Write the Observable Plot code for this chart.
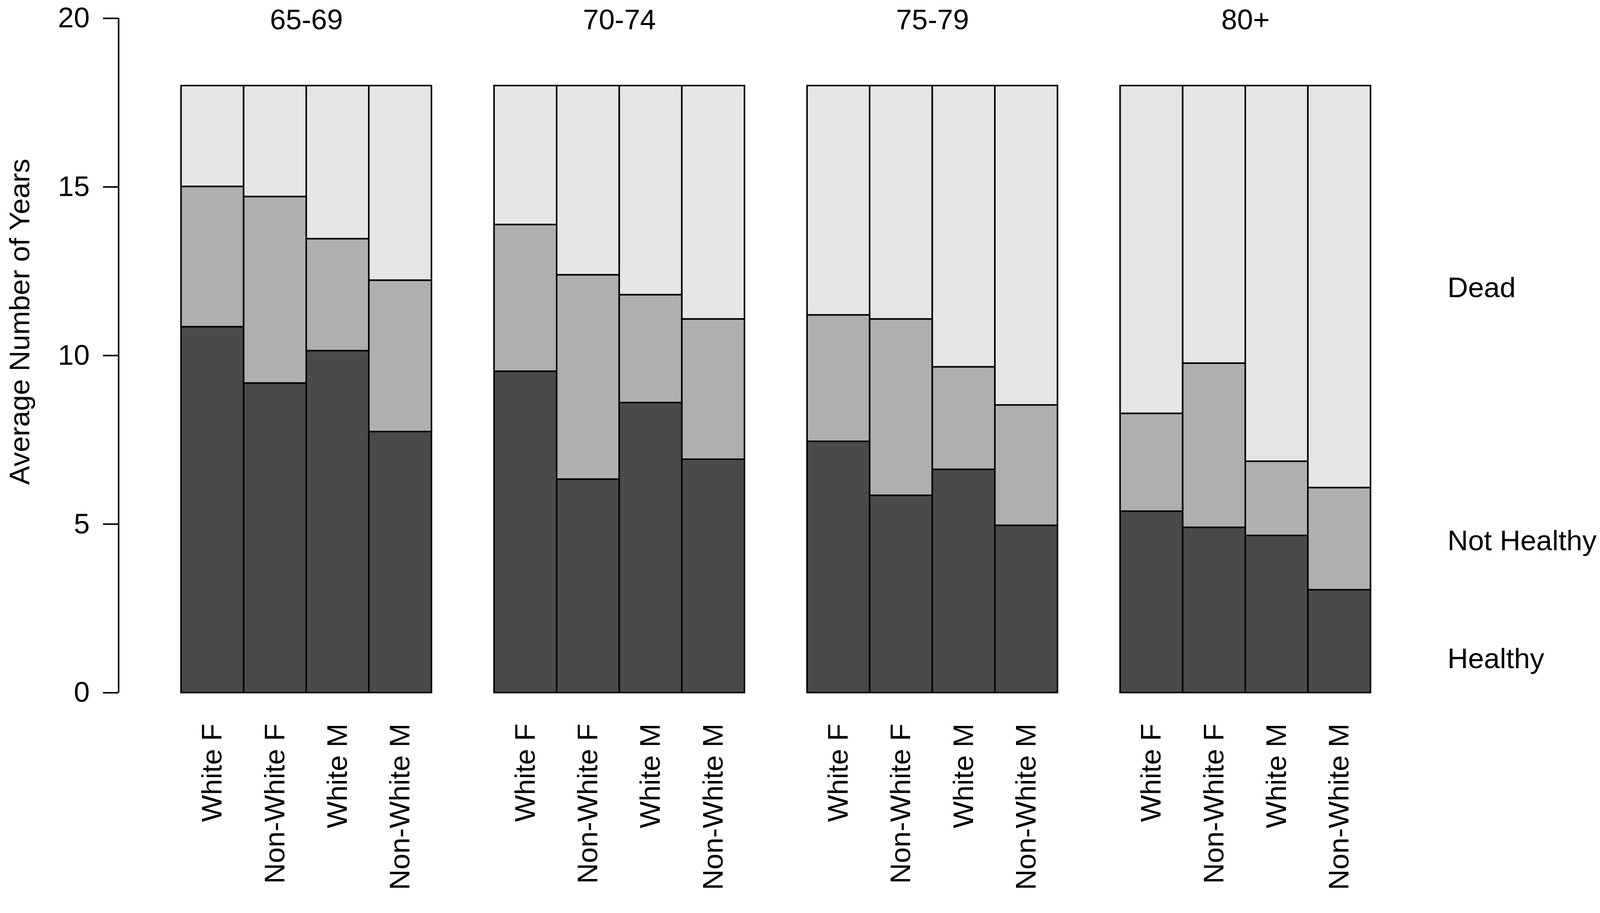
<!DOCTYPE html>
<html>
<head>
<meta charset="utf-8">
<script src="https://cdn.jsdelivr.net/npm/d3@7"></script>
<script src="https://cdn.jsdelivr.net/npm/@observablehq/plot@0.6"></script>
<style>
  html, body { margin: 0; padding: 0; background: #fff; overflow: hidden; }
</style>
</head>
<body>
<div id="chart"></div>
<script>
const groups = ["65-69", "70-74", "75-79", "80+"];
const categories = ["White F", "Non-White F", "White M", "Non-White M"];
const states = ["Healthy", "Not Healthy", "Dead"];
const stateColors = ["#4A4A4A", "#AFAFAF", "#E6E6E6"];

// years per state, one row per age group, one column per category
const healthy = [
  [10.85, 9.18, 10.14, 7.74],
  [9.53, 6.33, 8.60, 6.92],
  [7.45, 5.85, 6.62, 4.96],
  [5.38, 4.90, 4.66, 3.05]
];
const notHealthy = [
  [4.16, 5.53, 3.32, 4.49],
  [4.35, 6.06, 3.20, 4.16],
  [3.75, 5.23, 3.04, 3.57],
  [2.90, 4.87, 2.20, 3.03]
];
const dead = [
  [2.99, 3.29, 4.54, 5.77],
  [4.12, 5.61, 6.20, 6.92],
  [6.80, 6.92, 8.34, 9.47],
  [9.72, 8.23, 11.14, 11.92]
];

const yTicks = [0, 5, 10, 15, 20];
const yLabel = "Average Number of Years";
const legendLabels = ["Dead", "Not Healthy", "Healthy"];
const legendY = [12, 4.5, 1];

const series = [healthy, notHealthy, dead];
const slot = (gi, ci) => gi * (categories.length + 1) + ci + 1;

const rows = [];
groups.forEach((g, gi) => {
  categories.forEach((c, ci) => {
    states.forEach((s, si) => {
      rows.push({group: g, cat: c, state: s, pos: slot(gi, ci), value: series[si][gi][ci]});
    });
  });
});

const tickCenters = [];
const tickNames = new Map();
groups.forEach((g, gi) => categories.forEach((c, ci) => {
  const center = slot(gi, ci) + 0.5;
  tickCenters.push(center);
  tickNames.set(center, c);
}));

const FS = 74;
const SW = 4;
const xMax = slot(groups.length - 1, categories.length - 1) + 1;
const yMax = d3.max(yTicks);

const chart = Plot.plot({
  width: 4148,
  height: 2338,
  marginTop: 47,
  marginBottom: 542,
  marginLeft: 307,
  marginRight: 595,
  style: {fontFamily: "'Liberation Sans', Arial, sans-serif", fontSize: FS + "px", background: "#fff", color: "#000"},
  x: {domain: [0, xMax]},
  y: {domain: [0, yMax]},
  color: {domain: states, range: stateColors},
  marks: [
    Plot.rectY(rows, {
      x1: "pos",
      x2: d => d.pos + 1,
      y: "value",
      fill: "state",
      stroke: "#000",
      strokeWidth: SW
    }),
    Plot.ruleX([0], {y1: yTicks[0], y2: yMax, stroke: "#000", strokeWidth: SW}),
    Plot.axisY({
      ticks: yTicks,
      tickSize: 40,
      tickPadding: 35,
      fontSize: FS,
      strokeWidth: SW,
      label: null
    }),
    Plot.axisX({
      ticks: tickCenters,
      tickFormat: v => tickNames.get(v),
      tickRotate: -90,
      tickSize: 0,
      tickPadding: 80,
      fontSize: FS,
      label: null
    }),
    Plot.text(groups, {
      x: (d, i) => slot(i, 0) + categories.length / 2,
      y: () => yMax,
      fontSize: FS,
      lineAnchor: "middle",
      dy: 5,
      fill: "#000"
    }),
    Plot.text(legendLabels, {
      frameAnchor: "right",
      y: (d, i) => legendY[i],
      textAnchor: "start",
      lineAnchor: "middle",
      dx: 199,
      fontSize: FS,
      fill: "#000"
    }),
    Plot.text([yLabel], {
      frameAnchor: "left",
      y: () => 11,
      rotate: -90,
      dx: -255,
      textAnchor: "middle",
      lineAnchor: "middle",
      fontSize: FS,
      fill: "#000"
    })
  ]
});

document.getElementById("chart").appendChild(chart);
</script>
</body>
</html>
